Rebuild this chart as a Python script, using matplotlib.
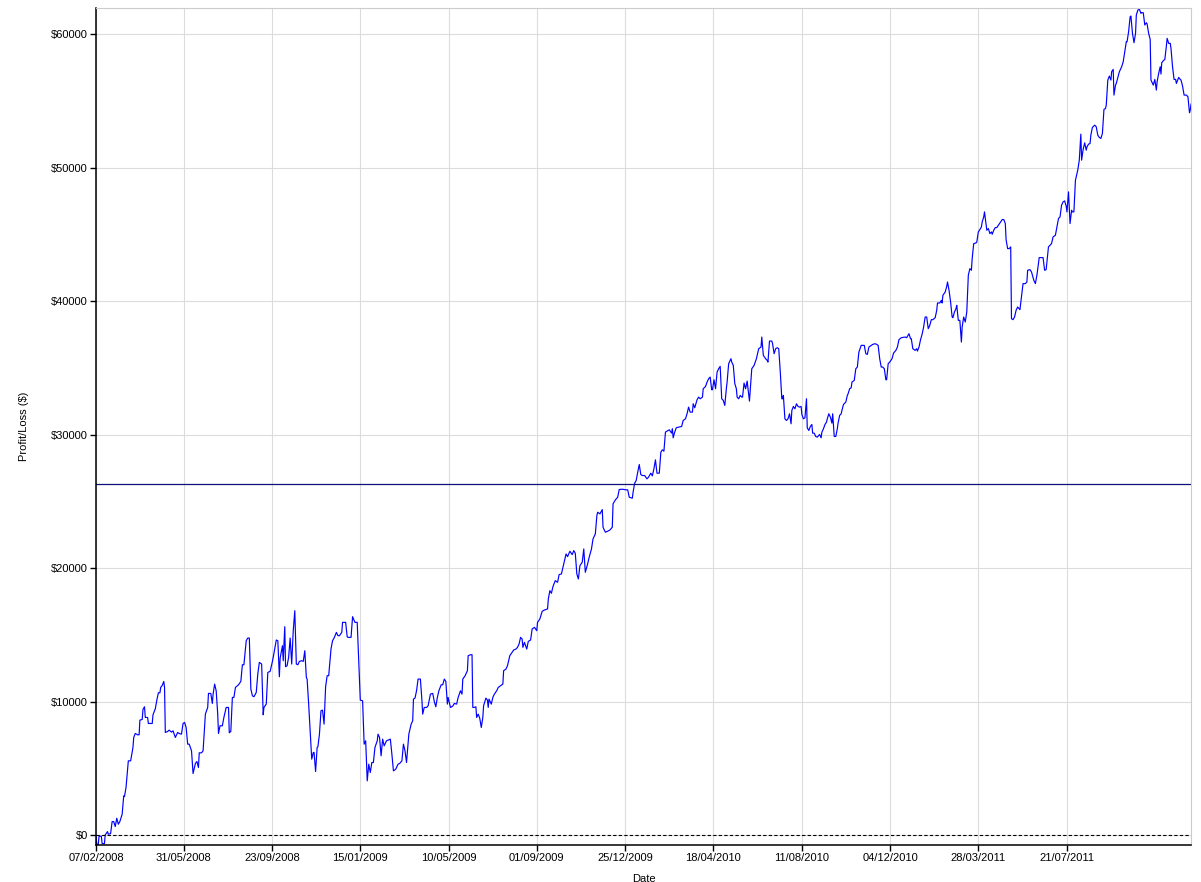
import datetime as dt

import matplotlib
matplotlib.use('Agg')
import matplotlib.pyplot as plt
from matplotlib.ticker import MultipleLocator, FuncFormatter

plt.rcParams['font.family'] = ['Liberation Sans', 'DejaVu Sans']

# cumulative profit/loss: days since start, value in $
start = dt.datetime(2008, 2, 7)

days = [
    0, 1, 3, 4, 7, 8, 11, 12, 15, 16, 19, 21, 23, 25, 27, 29, 31, 34, 36, 37, 39, 41, 42, 45, 48, 49,
    51, 54, 56, 57, 60, 61, 63, 64, 67, 68, 73, 74, 77, 79, 81, 83, 84, 86, 88, 89, 90, 93, 95, 98,
    100, 103, 106, 108, 111, 113, 115, 117, 119, 121, 124, 126, 129, 131, 133, 134, 137, 139, 142,
    145, 146, 149, 151, 152, 154, 156, 158, 159, 161, 164, 166, 169, 172, 173, 175, 177, 179, 181,
    185, 188, 190, 192, 195, 197, 199, 201, 203, 205, 208, 210, 212, 215, 217, 218, 221, 223, 226,
    229, 230, 234, 236, 238, 239, 242, 243, 245, 246, 248, 250, 252, 254, 256, 258, 260, 262, 264,
    267, 269, 271, 273, 274, 276, 278, 280, 282, 283, 285, 287, 288, 290, 292, 294, 296, 298, 300,
    302, 305, 307, 309, 312, 314, 316, 319, 320, 324, 326, 327, 331, 333, 336, 339, 341, 343, 346,
    348, 350, 352, 354, 356, 358, 360, 362, 365, 366, 368, 370, 372, 374, 377, 379, 382, 384, 386,
    389, 392, 394, 397, 399, 401, 403, 405, 406, 409, 411, 412, 414, 416, 418, 421, 423, 424, 426,
    429, 431, 434, 437, 439, 441, 443, 445, 448, 450, 452, 454, 456, 457, 460, 463, 465, 468, 470,
    473, 475, 476, 479, 482, 483, 486, 488, 489, 491, 493, 494, 496, 498, 500, 502, 503, 506, 508,
    509, 510, 513, 515, 517, 520, 522, 525, 528, 529, 532, 534, 537, 540, 542, 545, 547, 549, 551,
    553, 554, 556, 559, 561, 564, 566, 569, 572, 573, 576, 579, 582, 586, 587, 589, 591, 593, 596,
    599, 601, 604, 606, 608, 610, 612, 615, 618, 620, 622, 624, 626, 628, 631, 633, 635, 638, 640,
    643, 645, 648, 650, 651, 654, 657, 658, 661, 664, 667, 670, 671, 674, 677, 679, 683, 688, 690,
    692, 696, 697, 699, 701, 703, 705, 707, 709, 712, 715, 717, 720, 722, 724, 726, 728, 731,
    733, 735, 737, 739, 741, 744, 747, 748, 749, 751, 753, 756, 760, 762, 765, 767, 769, 771, 774,
    775, 777, 780, 782, 784, 787, 788, 791, 793, 795, 797, 799, 800, 802, 804, 806, 808, 810, 812,
    814, 816, 818, 819, 821, 824, 825, 827, 829, 831, 832, 834, 836, 838, 839, 841, 843, 845, 846,
    848, 850, 851, 854, 857, 858, 860, 863, 864, 866, 869, 871, 872, 874, 877, 878, 880, 882, 884,
    886, 888, 890, 891, 892, 894, 896, 898, 900, 902, 903, 905, 907, 909, 911, 913, 915, 916, 918,
    920, 922, 923, 925, 927, 929, 930, 932, 934, 936, 939, 941, 942, 944, 946, 948, 949, 951, 953,
    955, 956, 958, 960, 962, 963, 965, 967, 968, 970, 973, 975, 976, 978, 980, 981, 984, 986, 988,
    990, 993, 997, 999, 1001, 1003, 1006, 1008, 1011, 1013, 1015, 1017, 1019, 1021, 1023, 1025,
    1026, 1028, 1030, 1033, 1035, 1038, 1040, 1042, 1045, 1050, 1052, 1055, 1057, 1058, 1060, 1063,
    1065, 1066, 1068, 1070, 1072, 1074, 1076, 1078, 1080, 1082, 1084, 1086, 1089, 1091, 1092, 1095,
    1097, 1098, 1099, 1102, 1104, 1105, 1107, 1109, 1111, 1112, 1114, 1116, 1117, 1119, 1121, 1123,
    1124, 1126, 1128, 1130, 1131, 1132, 1134, 1136, 1137, 1139, 1142, 1143, 1145, 1147, 1149, 1150,
    1152, 1153, 1155, 1156, 1158, 1160, 1162, 1163, 1165, 1167, 1169, 1171, 1174, 1176, 1178, 1180,
    1181, 1183, 1185, 1187, 1188, 1190, 1192, 1194, 1196, 1199, 1201, 1203, 1206, 1208, 1209, 1212,
    1214, 1217, 1219, 1221, 1224, 1226, 1229, 1231, 1233, 1234, 1236, 1238,
    1240, 1242, 1245, 1247, 1249, 1251, 1253, 1255, 1257, 1259, 1260, 1262, 1264, 1266, 1267, 1269,
    1271, 1272, 1274, 1276, 1278, 1279, 1281, 1283, 1285, 1286, 1288, 1290, 1291, 1293, 1296, 1298,
    1300, 1302, 1304, 1306, 1308, 1310, 1311, 1313, 1315, 1317, 1318, 1320, 1321, 1323, 1324, 1326,
    1328, 1330, 1331, 1333, 1335, 1337, 1338, 1340, 1342, 1343, 1345, 1347, 1349, 1350, 1352, 1354,
    1356, 1357, 1359, 1361, 1363, 1364, 1366, 1368, 1369, 1370, 1372, 1374, 1376, 1377, 1379, 1381,
    1382, 1383, 1385, 1387, 1389, 1390, 1392, 1394, 1395, 1397, 1399, 1401, 1402, 1405, 1407, 1408,
    1410, 1412, 1415, 1417, 1419, 1420, 1421,
]

pnl = [
    0, -680, -680, -78, -78, -628, -628, 22, 272, 72, 122, 1022, 1022, 647, 1272, 822, 1022, 1572,
    2947, 2897, 3572, 4872, 5572, 5572, 6572, 7322, 7622, 7522, 7522, 8622, 8672, 9422, 9622, 8822,
    8822, 8372, 8372, 9022, 9472, 10122, 10672, 10672, 11072, 11222, 11522, 11072, 7697, 7772, 7872,
    7722, 7822, 7322, 7697, 7622, 7572, 8372, 8447, 8072, 6822, 6822, 6322, 4622, 5372, 5522, 5072,
    6172, 6172, 6322, 9072, 9572, 10622, 10622, 9872, 10572, 11322, 10822, 9072, 7622, 8197, 8197,
    8822, 9572, 9572, 7672, 7772, 10322, 10322, 11072, 11272, 11522, 12772, 12772, 14572, 14772,
    14772, 10947, 10447, 10372, 10697, 12072, 12947, 12822, 9022, 9572, 9822, 12197, 12272, 13022,
    13322, 14622, 14572, 11872, 13272, 14197, 13072, 15622, 12622, 12697, 13322, 14772, 12822, 15322,
    16822, 12822, 12772, 13022, 13072, 13022, 13822, 11822, 11697, 9822, 7697, 5697, 6197, 6197,
    4772, 6572, 6622, 7572, 9322, 9372, 8322, 11122, 11947, 11947, 13947, 14572, 14772, 15197, 14947,
    14947, 15197, 15947, 15947, 14872, 14822, 14822, 16372, 15947, 15947, 13072, 10122, 10072,
    6822, 7072, 4072, 5322, 4697, 5447, 5447, 6572, 7072, 7572, 7322, 5947, 7197, 6697, 7072, 7122,
    7197, 6072, 4822, 4947, 5322, 5372, 5572, 6822, 6322, 5447, 6822, 7572, 8322, 8572, 10197,
    10272, 10822, 11697, 11697, 10072, 9072, 9572, 9572, 9697, 10572, 10622, 10022, 9622, 10322,
    10822, 11272, 11272, 11697, 11522, 9822, 10322, 9572, 9672, 9872, 9822, 10322, 10822, 10572,
    11697, 11947, 12322, 13447, 13522, 13522, 9572, 9572, 9622, 8822, 9072, 8772, 8072, 8822, 9697,
    10272, 10122, 9572, 10197, 9822, 10322, 10572, 10822, 11072, 11197, 11322, 12322, 12447, 12697,
    13447, 13697, 13872, 13947, 14072, 14322, 14822, 14697, 14072, 14447, 13947, 14522, 14622, 15447,
    15572, 15322, 15947, 16197, 16772, 16872, 16947, 17697, 18322, 18122, 18622, 19072, 18947, 19522,
    19572, 20072, 20572, 21072, 20872, 21272, 21022, 21322, 21122, 19572, 19197, 20197, 20447, 21447,
    19697, 20322, 20822, 21447, 22197, 22572, 23947, 24197, 24072, 24397, 23072, 22697, 22772, 22872,
    23072, 24822, 25122, 25322, 25897, 25922, 25872, 25872, 25322, 25247, 25697, 26372, 26572, 27197,
    27772, 27022, 26947, 26947, 26697, 26822, 27122, 26922, 27447, 28122, 27122, 27122,
    28697, 28872, 28772, 30197, 30272, 30372, 30122, 30447, 29772, 30197, 30522, 30572, 30622, 31072,
    31197, 31572, 32072, 31697, 31697, 32322, 32022, 32622, 32822, 32697, 32822, 33447, 33622, 33947,
    34197, 34322, 33372, 33372, 34122, 33447, 34697, 34947, 35122, 32697, 32572, 32197, 33447, 33947,
    35322, 35697, 35447, 35197, 33822, 33447, 32822, 32697, 32947, 32822, 32822, 33872, 33447, 34022,
    33522, 32522, 34197, 34947, 35197, 35697, 35947, 36447, 36572, 37322, 35947, 35697, 35572, 35447,
    37022, 37022, 36822, 36072, 36447, 36522, 36447, 34697, 32697, 32697, 32947, 31197, 31072, 31197,
    31572, 30822, 31822, 32122, 31947, 32322, 32122, 32072, 32122, 31522, 31197, 31272, 32697, 30522,
    30322, 30622, 30772, 30122, 30122, 29872, 29822, 30022, 29772, 30197, 30447, 30772, 30947, 31197,
    31572, 31322, 30872, 31572, 29872, 29872, 30447, 30872, 31447, 31572, 31822, 32272, 32447, 32947,
    33072, 33447, 33522, 33947, 34072, 34947, 35072, 36197,
    36697, 36697, 36072, 36022, 36572, 36697, 36772, 36822, 36772, 36697, 35697, 35072, 35072, 34947,
    34122, 34122, 35322, 35447, 35697, 36122, 36322, 36572, 37122, 37272, 37322, 37272, 37572, 37197,
    37197, 36447, 36322, 36447, 36272, 36572, 37122, 37522, 38072, 38822, 38822, 37947, 38197, 38622,
    38622, 38772, 39322, 39872, 39872, 40072, 39872, 40447, 40697, 41122, 41447, 40822, 39947, 38822,
    38772, 39197, 39447, 39697, 38572, 38572, 36947, 38072, 38822, 38447, 39197, 40572, 41947, 42447,
    42322, 43197, 44322, 44372, 44447, 45197, 45372, 45572, 45947, 46322, 46697, 45822, 45322, 45447,
    45072, 45197, 45022, 45322, 45522, 45522, 45697, 45947, 46122, 46122, 45822, 44622, 43947, 43947,
    44072, 38697, 38622, 38822, 39322, 39572, 39372, 40322, 41322, 41322, 41447, 42322, 42372, 42197,
    41572, 41322, 41947, 43272, 43272, 43272, 42322, 42372, 42947, 44072, 44197,
    44322, 44822, 44947, 45572, 46197, 46322, 47197, 47447, 47522, 47122, 46697, 48197, 45822, 46822,
    46697, 46697, 49072, 49322, 49822, 50572, 52522, 50572, 51372, 51872, 51322, 51572, 51772, 51822,
    52447, 53022, 53197, 53072, 52447, 52272, 52197, 52572, 54372, 54447, 54697, 56572, 56872, 56572,
    57197, 57372, 55447, 56197, 56322, 56772, 57197, 57447, 57572, 57947, 58697, 59447, 59447, 60197,
    61322, 61372, 60072, 59372, 60072, 61447, 61822, 61872, 61572, 61622, 61622, 60697, 60872, 60772,
    60072, 59622, 56572, 56447, 56197, 56622, 55822, 56447, 57072, 57572, 57022, 57872, 58022, 58122,
    59122, 59697, 59322, 59322, 58947, 57572, 56622, 56622, 56322, 56772, 56622, 56572, 56122, 55447,
    55447, 55322, 54122, 54322, 54772,
]

mean_pl = 26300

tick_labels = ['07/02/2008', '31/05/2008', '23/09/2008', '15/01/2009', '10/05/2009', '01/09/2009',
               '25/12/2009', '18/04/2010', '11/08/2010', '04/12/2010', '28/03/2011', '21/07/2011']

dates = [start + dt.timedelta(days=d) for d in days]
tick_dates = [dt.datetime.strptime(s, '%d/%m/%Y') for s in tick_labels]

fig = plt.figure(figsize=(12.01, 8.82), dpi=100)
ax = fig.add_axes([0.0799, 0.042, 0.9118, 0.9489])

ax.plot(dates, pnl, color='blue', lw=0.85)
ax.axhline(mean_pl, color='#10107a', lw=0.9)
ax.axhline(0, color='black', lw=0.8, ls=(0, (3, 2)))

ax.set_xlim(dates[0], dates[-1])
ax.set_ylim(-730, 61970)
ax.set_xticks(tick_dates)
ax.set_xticklabels(tick_labels)
ax.yaxis.set_major_locator(MultipleLocator(10000))
ax.yaxis.set_major_formatter(FuncFormatter(lambda v, p: '$%d' % v))

ax.grid(color='#dcdcdc', lw=0.8)
ax.set_axisbelow(True)
for s in ['left', 'bottom']:
    ax.spines[s].set_color('black')
    ax.spines[s].set_linewidth(1.1)
for s in ['top', 'right']:
    ax.spines[s].set_color('#cccccc')
    ax.spines[s].set_linewidth(0.8)
ax.tick_params(length=4, width=1, labelsize=8, colors='black', pad=2)

ax.set_xlabel('Date', fontsize=8, labelpad=8)
ax.set_ylabel('Profit/Loss ($)', fontsize=8, labelpad=16)

fig.savefig('out.png', dpi=100)
